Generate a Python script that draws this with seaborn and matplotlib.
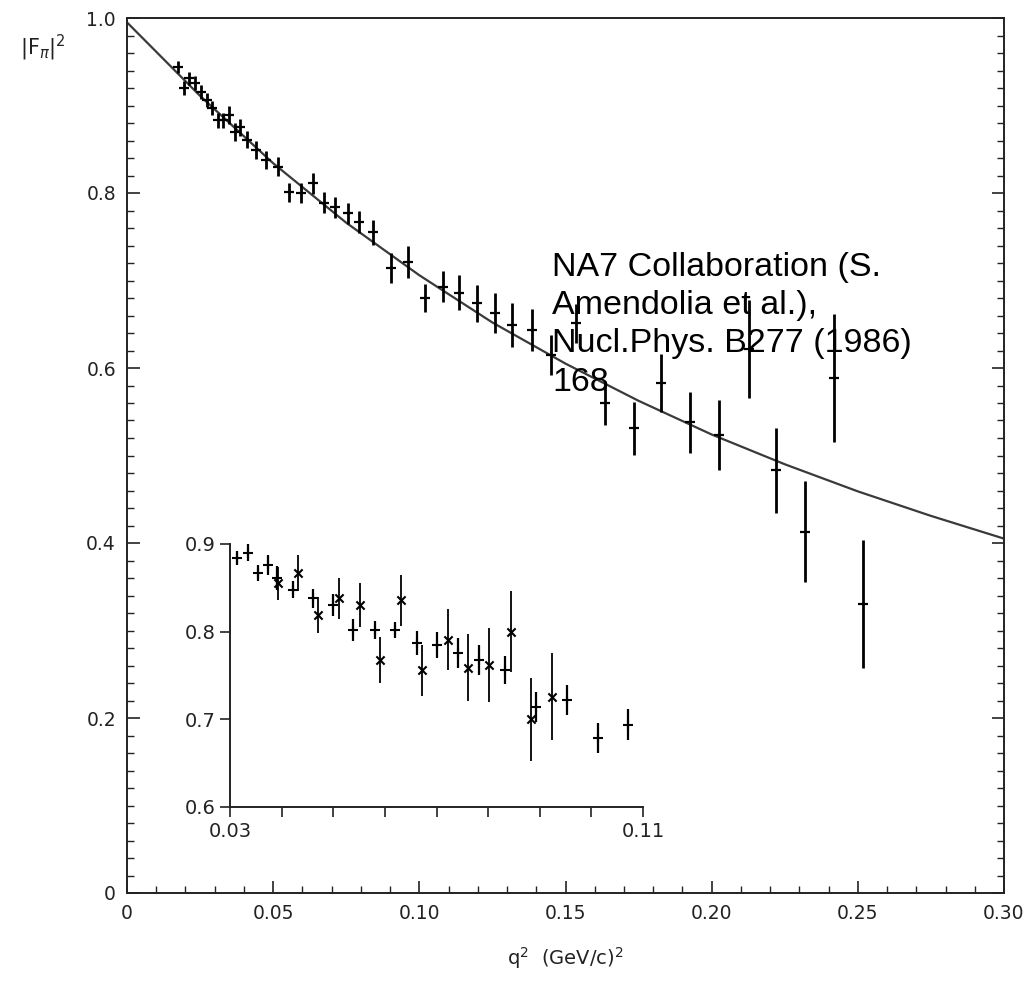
import numpy as np
import matplotlib
matplotlib.use("Agg")
import matplotlib.pyplot as plt
from matplotlib.ticker import MultipleLocator
import seaborn as sns

# ---------------- data ----------------
fit_q2 = [0.0, 0.025, 0.05, 0.075, 0.10, 0.125, 0.15, 0.175, 0.20, 0.225, 0.25, 0.275, 0.30]
fit_F2 = [0.995, 0.911, 0.834, 0.766, 0.706, 0.652, 0.605, 0.5625, 0.524, 0.490, 0.459, 0.431, 0.405]

main_q2 = [0.0173, 0.0196, 0.0213, 0.0233, 0.0254, 0.0274, 0.0290, 0.0310, 0.0330, 0.0350,
           0.0370, 0.0386, 0.0410, 0.0440, 0.0477, 0.0518, 0.0555, 0.0596, 0.0636, 0.0674,
           0.0711, 0.0755, 0.0792, 0.0843, 0.0902, 0.0961, 0.1019, 0.1080, 0.1137, 0.1198,
           0.1260, 0.1317, 0.1385, 0.1452, 0.1537, 0.1635, 0.1733, 0.1828, 0.1926, 0.2024,
           0.2126, 0.2220, 0.2319, 0.2420, 0.2519]
main_F2 = [0.944, 0.920, 0.931, 0.926, 0.915, 0.906, 0.897, 0.883, 0.883, 0.889,
           0.870, 0.875, 0.861, 0.849, 0.838, 0.830, 0.801, 0.800, 0.811, 0.789,
           0.784, 0.777, 0.767, 0.755, 0.714, 0.721, 0.680, 0.693, 0.686, 0.674,
           0.663, 0.649, 0.643, 0.615, 0.651, 0.560, 0.531, 0.583, 0.538, 0.523,
           0.622, 0.483, 0.413, 0.589, 0.330]
main_err = [0.007, 0.008, 0.007, 0.008, 0.008, 0.008, 0.008, 0.009, 0.009, 0.010,
            0.010, 0.010, 0.010, 0.010, 0.010, 0.011, 0.011, 0.011, 0.012, 0.012,
            0.012, 0.012, 0.013, 0.014, 0.017, 0.018, 0.016, 0.018, 0.020, 0.021,
            0.023, 0.025, 0.024, 0.023, 0.022, 0.025, 0.030, 0.033, 0.035, 0.040,
            0.056, 0.049, 0.058, 0.073, 0.073]

# inset: two sets of symbols
ins_plus_q2 = [0.0314, 0.0335, 0.0354, 0.0374, 0.0391, 0.0422, 0.0461, 0.0500, 0.0538, 0.0581,
               0.0620, 0.0662, 0.0701, 0.0742, 0.0782, 0.0833, 0.0893, 0.0953, 0.1013, 0.1071]
ins_plus_F2 = [0.884, 0.890, 0.867, 0.876, 0.861, 0.848, 0.838, 0.830, 0.802, 0.802,
               0.802, 0.787, 0.785, 0.776, 0.768, 0.756, 0.714, 0.722, 0.679, 0.694]
ins_plus_err = [0.0076, 0.0095, 0.0095, 0.0114, 0.014, 0.0095, 0.0105, 0.0124, 0.0124, 0.0105,
                0.0095, 0.0133, 0.015, 0.017, 0.017, 0.016, 0.017, 0.017, 0.017, 0.018]

ins_x_q2 = [0.0393, 0.0432, 0.0470, 0.0511, 0.0552, 0.0590, 0.0631, 0.0672, 0.0722, 0.0761,
            0.0802, 0.0844, 0.0883, 0.0924]
ins_x_F2 = [0.855, 0.867, 0.819, 0.838, 0.830, 0.768, 0.836, 0.756, 0.791, 0.759,
            0.762, 0.800, 0.700, 0.726]
ins_x_err = [0.019, 0.021, 0.020, 0.023, 0.025, 0.026, 0.029, 0.029, 0.035, 0.038,
             0.042, 0.046, 0.047, 0.050]

main_xticks = [0.0, 0.05, 0.10, 0.15, 0.20, 0.25, 0.30]
main_xticklabels = ["0", "0.05", "0.10", "0.15", "0.20", "0.25", "0.30"]
main_yticks = [0.0, 0.2, 0.4, 0.6, 0.8, 1.0]
main_yticklabels = ["0", "0.2", "0.4", "0.6", "0.8", "1.0"]
ins_xticks = [0.03, 0.04, 0.05, 0.06, 0.07, 0.08, 0.09, 0.10, 0.11]
ins_xticklabels = ["0.03", "", "", "", "", "", "", "", "0.11"]
ins_yticks = [0.6, 0.7, 0.8, 0.9]
ins_yticklabels = ["0.6", "0.7", "0.8", "0.9"]

annotation = "NA7 Collaboration (S.\nAmendolia et al.),\nNucl.Phys. B277 (1986)\n168"

# ---------------- figure ----------------
sns.set_style("ticks")
plt.rcParams["font.family"] = ["DejaVu Sans"]

W, H = 1026, 982
fig = plt.figure(figsize=(W / 100, H / 100), dpi=100)
fig.patch.set_facecolor("white")

ax = fig.add_axes([127 / W, (H - 893) / H, 877 / W, 875 / H])
ax.set_xlim(0, 0.30)
ax.set_ylim(0, 1.0)

sns.lineplot(x=fit_q2, y=fit_F2, ax=ax, color="#3a3a3a", linewidth=1.6, zorder=2)
ax.errorbar(main_q2, main_F2, yerr=main_err, fmt="none", ecolor="black",
            elinewidth=2.0, capsize=0, zorder=3)
sns.scatterplot(x=main_q2, y=main_F2, ax=ax, marker="_", s=45, color="black",
                linewidth=1.6, zorder=4)

ax.set_xticks(main_xticks)
ax.set_xticklabels(main_xticklabels, fontsize=13.5, color="#222222")
ax.set_yticks(main_yticks)
ax.set_yticklabels(main_yticklabels, fontsize=13.5, color="#222222")
ax.xaxis.set_minor_locator(MultipleLocator(0.01))
ax.yaxis.set_minor_locator(MultipleLocator(0.02))
ax.tick_params(axis="both", which="major", direction="out", length=9, width=1.2,
               pad=8, colors="#222222")
ax.tick_params(axis="both", which="minor", direction="out", length=5, width=1.0,
               colors="#222222")
ax.tick_params(right=True, which="both", direction="in")
for s in ax.spines.values():
    s.set_linewidth(1.4)
    s.set_color("#222222")

ax.set_xlabel(r"q$^2$  (GeV/c)$^2$", fontsize=14, color="#222222", labelpad=16)
ax.set_ylabel("")
fig.text(20 / W, 1 - 48 / H, r"|F$_\pi$|$^2$", fontsize=15, color="#222222",
         ha="left", va="center")

fig.text(552 / W, 1 - 252 / H, annotation, fontsize=24.5,
         family=["Liberation Sans", "DejaVu Sans"], color="black",
         ha="left", va="top", linespacing=1.3, zorder=10)

# ---------------- inset ----------------
ax2 = fig.add_axes([230 / W, (H - 807) / H, 413 / W, 263 / H])
ax2.set_facecolor("none")
ax2.set_xlim(0.03, 0.11)
ax2.set_ylim(0.6, 0.9)
ax2.errorbar(ins_plus_q2, ins_plus_F2, yerr=ins_plus_err, fmt="none", ecolor="black",
             elinewidth=1.6, capsize=0, clip_on=False)
ax2.errorbar(ins_x_q2, ins_x_F2, yerr=ins_x_err, fmt="none", ecolor="black",
             elinewidth=1.3, capsize=0, clip_on=False)
sns.scatterplot(x=ins_plus_q2, y=ins_plus_F2, ax=ax2, marker="+", s=50, color="black",
                linewidth=1.5, clip_on=False)
sns.scatterplot(x=ins_x_q2, y=ins_x_F2, ax=ax2, marker="x", s=35, color="black",
                linewidth=1.5, clip_on=False)
ax2.set_xticks(ins_xticks)
ax2.set_xticklabels(ins_xticklabels, fontsize=14, color="#222222")
ax2.set_yticks(ins_yticks)
ax2.set_yticklabels(ins_yticklabels, fontsize=14, color="#222222")
ax2.tick_params(axis="both", direction="out", length=7, width=1.2, colors="#222222")
ax2.spines["top"].set_visible(False)
ax2.spines["right"].set_visible(False)
for s in ("left", "bottom"):
    ax2.spines[s].set_linewidth(1.4)
    ax2.spines[s].set_color("#222222")
ax2.set_xlabel("")
ax2.set_ylabel("")

fig.savefig("out.png", dpi=100, facecolor="white")
